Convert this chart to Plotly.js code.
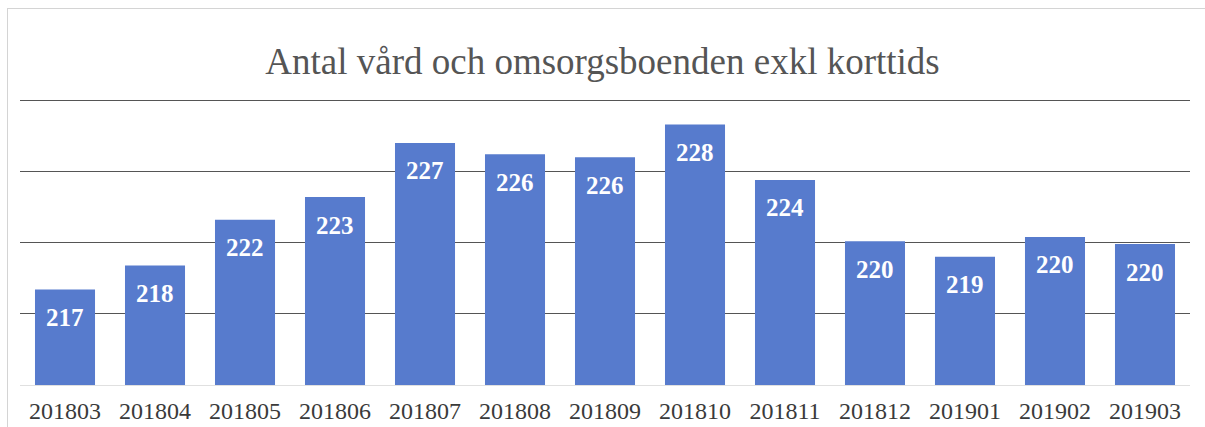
<!DOCTYPE html>
<html>
<head>
<meta charset="utf-8">
<script src="https://cdn.plot.ly/plotly-3.0.1.min.js"></script>
<style>
  html, body { margin: 0; padding: 0; background: #fff; }
  #frame { position: absolute; left: 7px; top: 8px; width: 1198px; height: 419px;
           border-left: 1px solid #d4d4d4; border-top: 1px solid #d4d4d4; }
  #chart { position: absolute; left: 0; top: 0; width: 1205px; height: 427px; }
</style>
</head>
<body>
<div id="frame"></div>
<div id="chart"></div>
<script>
// månader och antal boenden
var months = ["201803", "201804", "201805", "201806", "201807", "201808", "201809",
              "201810", "201811", "201812", "201901", "201902", "201903"];
var counts = [216.7, 218.4, 221.6, 223.2, 227.0, 226.2, 226.0,
              228.3, 224.4, 220.1, 219.0, 220.4, 219.9];

var serif = 'Liberation Serif';

var trace = {
    x: months,
    y: counts,
    type: 'bar',
    marker: {color: '#577bcd'},
    hoverinfo: 'x+y'
};

// dataetiketter en bit under stapelns topp (x som kategoriindex)
var labels = months.map(function(m, i){
    return {
        x: i, y: counts[i], xref: 'x', yref: 'y',
        text: '<b>' + Math.round(counts[i]) + '</b>',
        showarrow: false, yanchor: 'middle', yshift: -28,
        font: {family: serif, size: 25, color: '#ffffff'}
    };
});

var layout = {
    width: 1205,
    height: 427,
    margin: {l: 20, r: 15, t: 86, b: 42},
    title: {
        text: 'Antal vård och omsorgsboenden exkl korttids',
        font: {family: serif, size: 37, color: '#555555'},
        x: 0.5, xanchor: 'center', y: 0.858, yanchor: 'middle', yref: 'container'
    },
    bargap: 0.333,
    xaxis: {
        type: 'category',
        range: [-0.5, months.length - 0.5],
        showline: true, linecolor: '#e0e0e0', linewidth: 1,
        ticks: '', ticklabelstandoff: 4,
        tickfont: {family: serif, size: 24, color: '#3a3a3a'}
    },
    yaxis: {
        range: [210, 231], dtick: 5,
        showticklabels: false, showgrid: true, gridcolor: '#555555', gridwidth: 1,
        zeroline: false
    },
    annotations: labels,
    showlegend: false,
    plot_bgcolor: 'rgba(0,0,0,0)',
    paper_bgcolor: 'rgba(0,0,0,0)'
};

Plotly.newPlot('chart', [trace], layout, {displayModeBar: false});
</script>
</body>
</html>
